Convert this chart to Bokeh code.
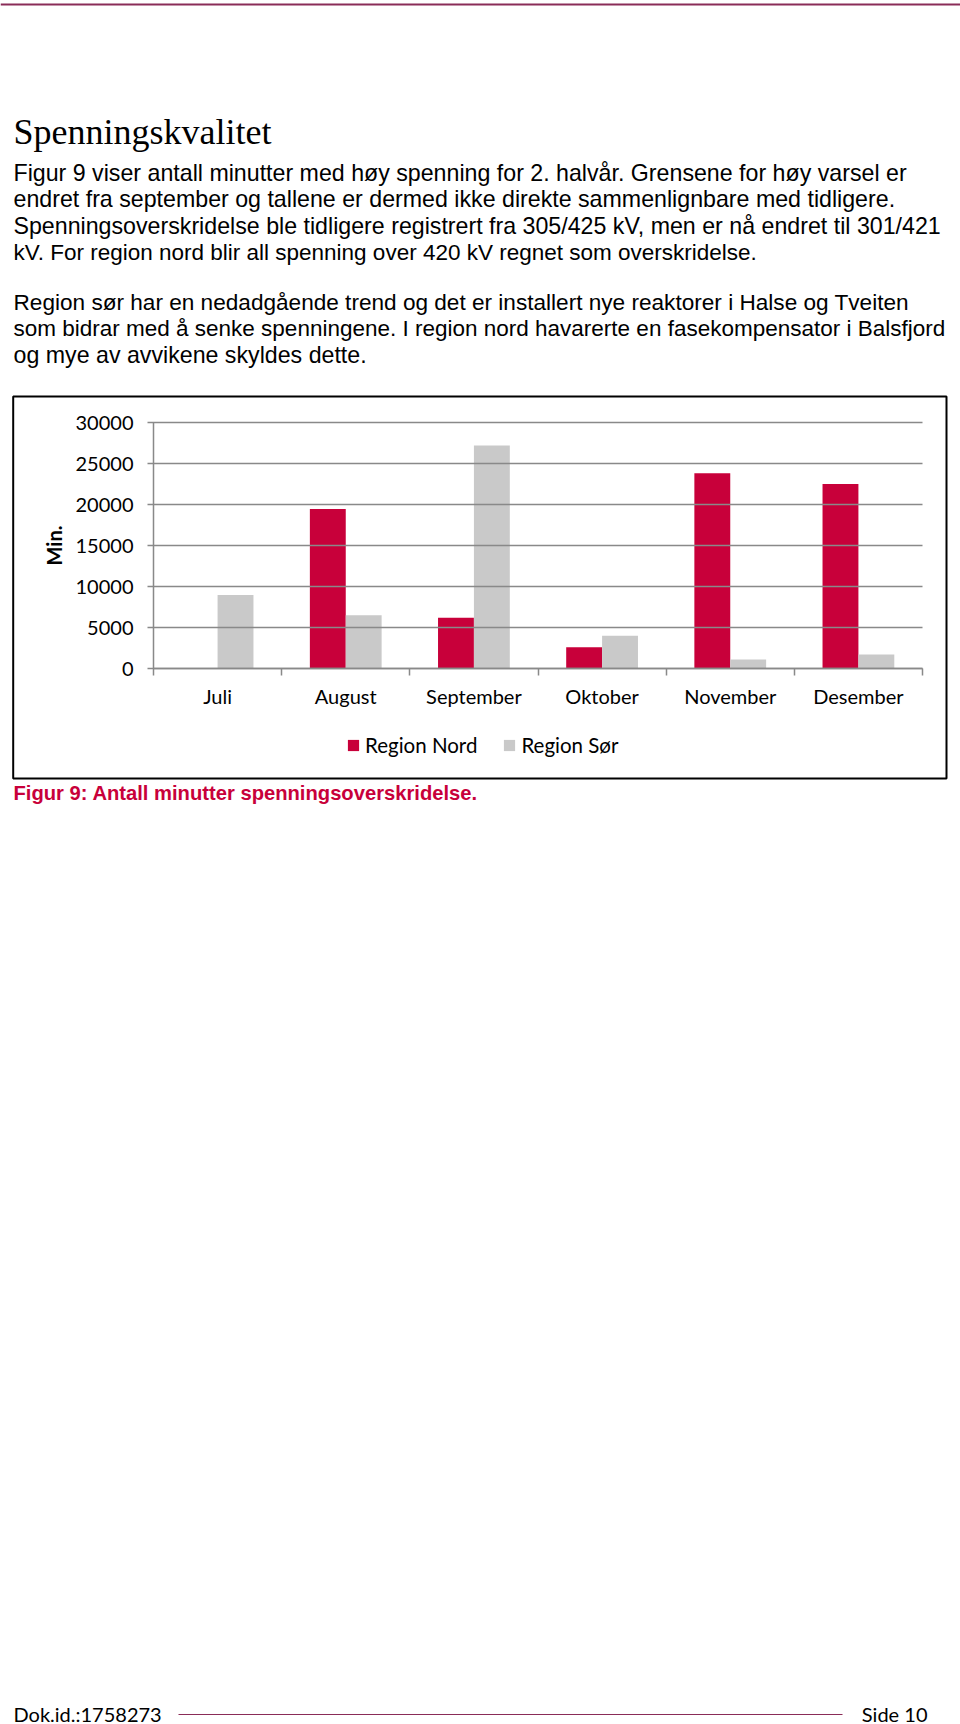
from bokeh.plotting import figure
from bokeh.models import (Range1d, FixedTicker, Legend, LegendItem,
                          NumeralTickFormatter)
from bokeh.core.properties import value
from bokeh.embed import file_html
from bokeh.resources import INLINE

# ---------------- data ----------------
months = ["Juli", "August", "September", "Oktober", "November", "Desember"]
region_nord = [0, 19450, 6200, 2600, 23800, 22500]
region_sor = [8950, 6500, 27200, 4000, 1100, 1700]
y_ticks = [0, 5000, 10000, 15000, 20000, 25000, 30000]
series_names = ["Region Nord", "Region Sør"]

title_text = "Spenningskvalitet"
para1 = [
    "Figur 9 viser antall minutter med høy spenning for 2. halvår. Grensene for høy varsel er",
    "endret fra september og tallene er dermed ikke direkte sammenlignbare med tidligere.",
    "Spenningsoverskridelse ble tidligere registrert fra 305/425 kV, men er nå endret til 301/421",
    "kV. For region nord blir all spenning over 420 kV regnet som overskridelse.",
]
para2 = [
    "Region sør har en nedadgående trend og det er installert nye reaktorer i Halse og Tveiten",
    "som bidrar med å senke spenningene. I region nord havarerte en fasekompensator i Balsfjord",
    "og mye av avvikene skyldes dette.",
]
caption = "Figur 9: Antall minutter spenningsoverskridelse."
footer_left = "Dok.id.:1758273"
footer_right = "Side 10"

# ---------------- styles ----------------
RED = "#c8003a"
GRAY = "#c9c9c9"
AXIS = "#898989"
MAROON = "#8a2c58"
para1_sizes = ["23.2px", "23.2px", "23.2px", "22.5px"]
para2_sizes = ["22.6px", "22.5px", "23.2px"]

# ---------------- page geometry (pixels) ----------------
W, H = 960, 1724
PL, PR, PT, PB = 153, 922, 422, 668      # plot area of the chart
Y_MAX = y_ticks[-1]
n = len(months)
ux = (PR - PL) / n                        # px per category
uy = (PB - PT) / Y_MAX                    # px per minute
x_rng = Range1d(-PL / ux, n + (W - PR) / ux)
y_rng = Range1d(-(H - PB) / uy, PB / uy)

p = figure(width=W, height=H, output_backend="svg", toolbar_location=None,
           x_range=x_rng, y_range=y_rng,
           min_border=0, min_border_left=0, min_border_right=0,
           min_border_top=0, min_border_bottom=0)
p.background_fill_color = "white"
p.border_fill_color = "white"
p.outline_line_color = None
p.grid.visible = False

# page pixel coordinates for the surrounding page elements
p.extra_x_ranges = {"px": Range1d(0, W)}
p.extra_y_ranges = {"px": Range1d(H, 0)}


def txt(x, y, t, font="Liberation Sans", size="22.5px", color="black",
        align="left", style="normal"):
    p.text(x=[x], y=[y], text=[t], text_font=value(font),
           text_font_size=value(size), text_color=color, text_align=align,
           text_baseline="alphabetic", text_font_style=style,
           x_range_name="px", y_range_name="px")


# ---------------- page header ----------------
p.segment(x0=[0], y0=[4], x1=[W], y1=[4], line_color=MAROON, line_width=2,
          x_range_name="px", y_range_name="px")
txt(13, 131, title_text, font="Liberation Serif", size="36px")
for k, (t, s) in enumerate(zip(para1, para1_sizes)):
    txt(13, 172.5 + k * 26.4, t, size=s)
for k, (t, s) in enumerate(zip(para2, para2_sizes)):
    txt(13, 301.5 + k * 26.4, t, size=s)

# chart box
p.quad(left=[12.7], right=[946], top=[396], bottom=[778], fill_alpha=0,
       line_color="black", line_width=2, x_range_name="px", y_range_name="px")

# ---------------- bars ----------------
idx = list(range(n))
x_nord = [i + 0.5 - 0.14 for i in idx]
x_sor = [i + 0.5 + 0.14 for i in idx]
r1 = p.vbar(x=x_nord, top=region_nord, width=0.28, fill_color=RED, line_color=None)
r2 = p.vbar(x=x_sor, top=region_sor, width=0.28, fill_color=GRAY, line_color=None)

# ---------------- axes ----------------
xa = p.xaxis[0]
xa.fixed_location = 0
xa.bounds = (0, n)
xa.ticker = FixedTicker(ticks=[i + 0.5 for i in idx], minor_ticks=list(range(n + 1)))
xa.major_label_overrides = {i + 0.5: m for i, m in zip(idx, months)}
xa.major_tick_out = 0
xa.major_tick_in = 0
xa.minor_tick_out = 7
xa.minor_tick_in = 0
xa.minor_tick_line_color = AXIS
xa.minor_tick_line_width = 1.5
xa.axis_line_color = AXIS
xa.axis_line_width = 1.5
xa.major_label_text_font = "Lato"
xa.major_label_text_font_size = "20px"
xa.major_label_text_color = "black"
xa.major_label_standoff = 8

ya = p.yaxis[0]
ya.fixed_location = 0
ya.bounds = (0, Y_MAX)
ya.ticker = FixedTicker(ticks=y_ticks, minor_ticks=[])
ya.formatter = NumeralTickFormatter(format="0")
ya.major_tick_out = 6
ya.major_tick_in = PR - PL                # ticks drawn across as grid lines
ya.minor_tick_out = 0
ya.minor_tick_in = 0
ya.major_tick_line_color = AXIS
ya.major_tick_line_width = 1.5
ya.axis_line_color = AXIS
ya.axis_line_width = 1.5
ya.major_label_text_font = "Lato"
ya.major_label_text_font_size = "20px"
ya.major_label_text_color = "black"
ya.major_label_standoff = 14
ya.axis_label = "Min."
ya.axis_label_text_font = "Lato"
ya.axis_label_text_font_size = "20px"
ya.axis_label_text_font_style = "bold"
ya.axis_label_text_color = "black"
ya.axis_label_standoff = 7

# ---------------- legend ----------------
leg = Legend(items=[LegendItem(label=series_names[0], renderers=[r1]),
                    LegendItem(label=series_names[1], renderers=[r2])],
             orientation="horizontal", location=(346, H - 757),
             border_line_alpha=0, background_fill_alpha=0, padding=0, margin=0,
             spacing=25, glyph_width=14, glyph_height=14, label_standoff=5,
             label_text_font="Lato", label_text_font_size="20.5px",
             label_text_color="black")
p.add_layout(leg, "center")

# ---------------- caption + footer ----------------
txt(13, 792, caption, size="20.2px", color=RED, style="bold")
txt(13, 1713.5, footer_left, font="Lato", size="20px")
txt(927, 1713.5, footer_right, font="Lato", size="20px", align="right")
p.segment(x0=[178], y0=[1714], x1=[842], y1=[1714], line_color=MAROON,
          line_width=1.2, x_range_name="px", y_range_name="px")

open("out.html", "w").write(file_html(p, INLINE))
